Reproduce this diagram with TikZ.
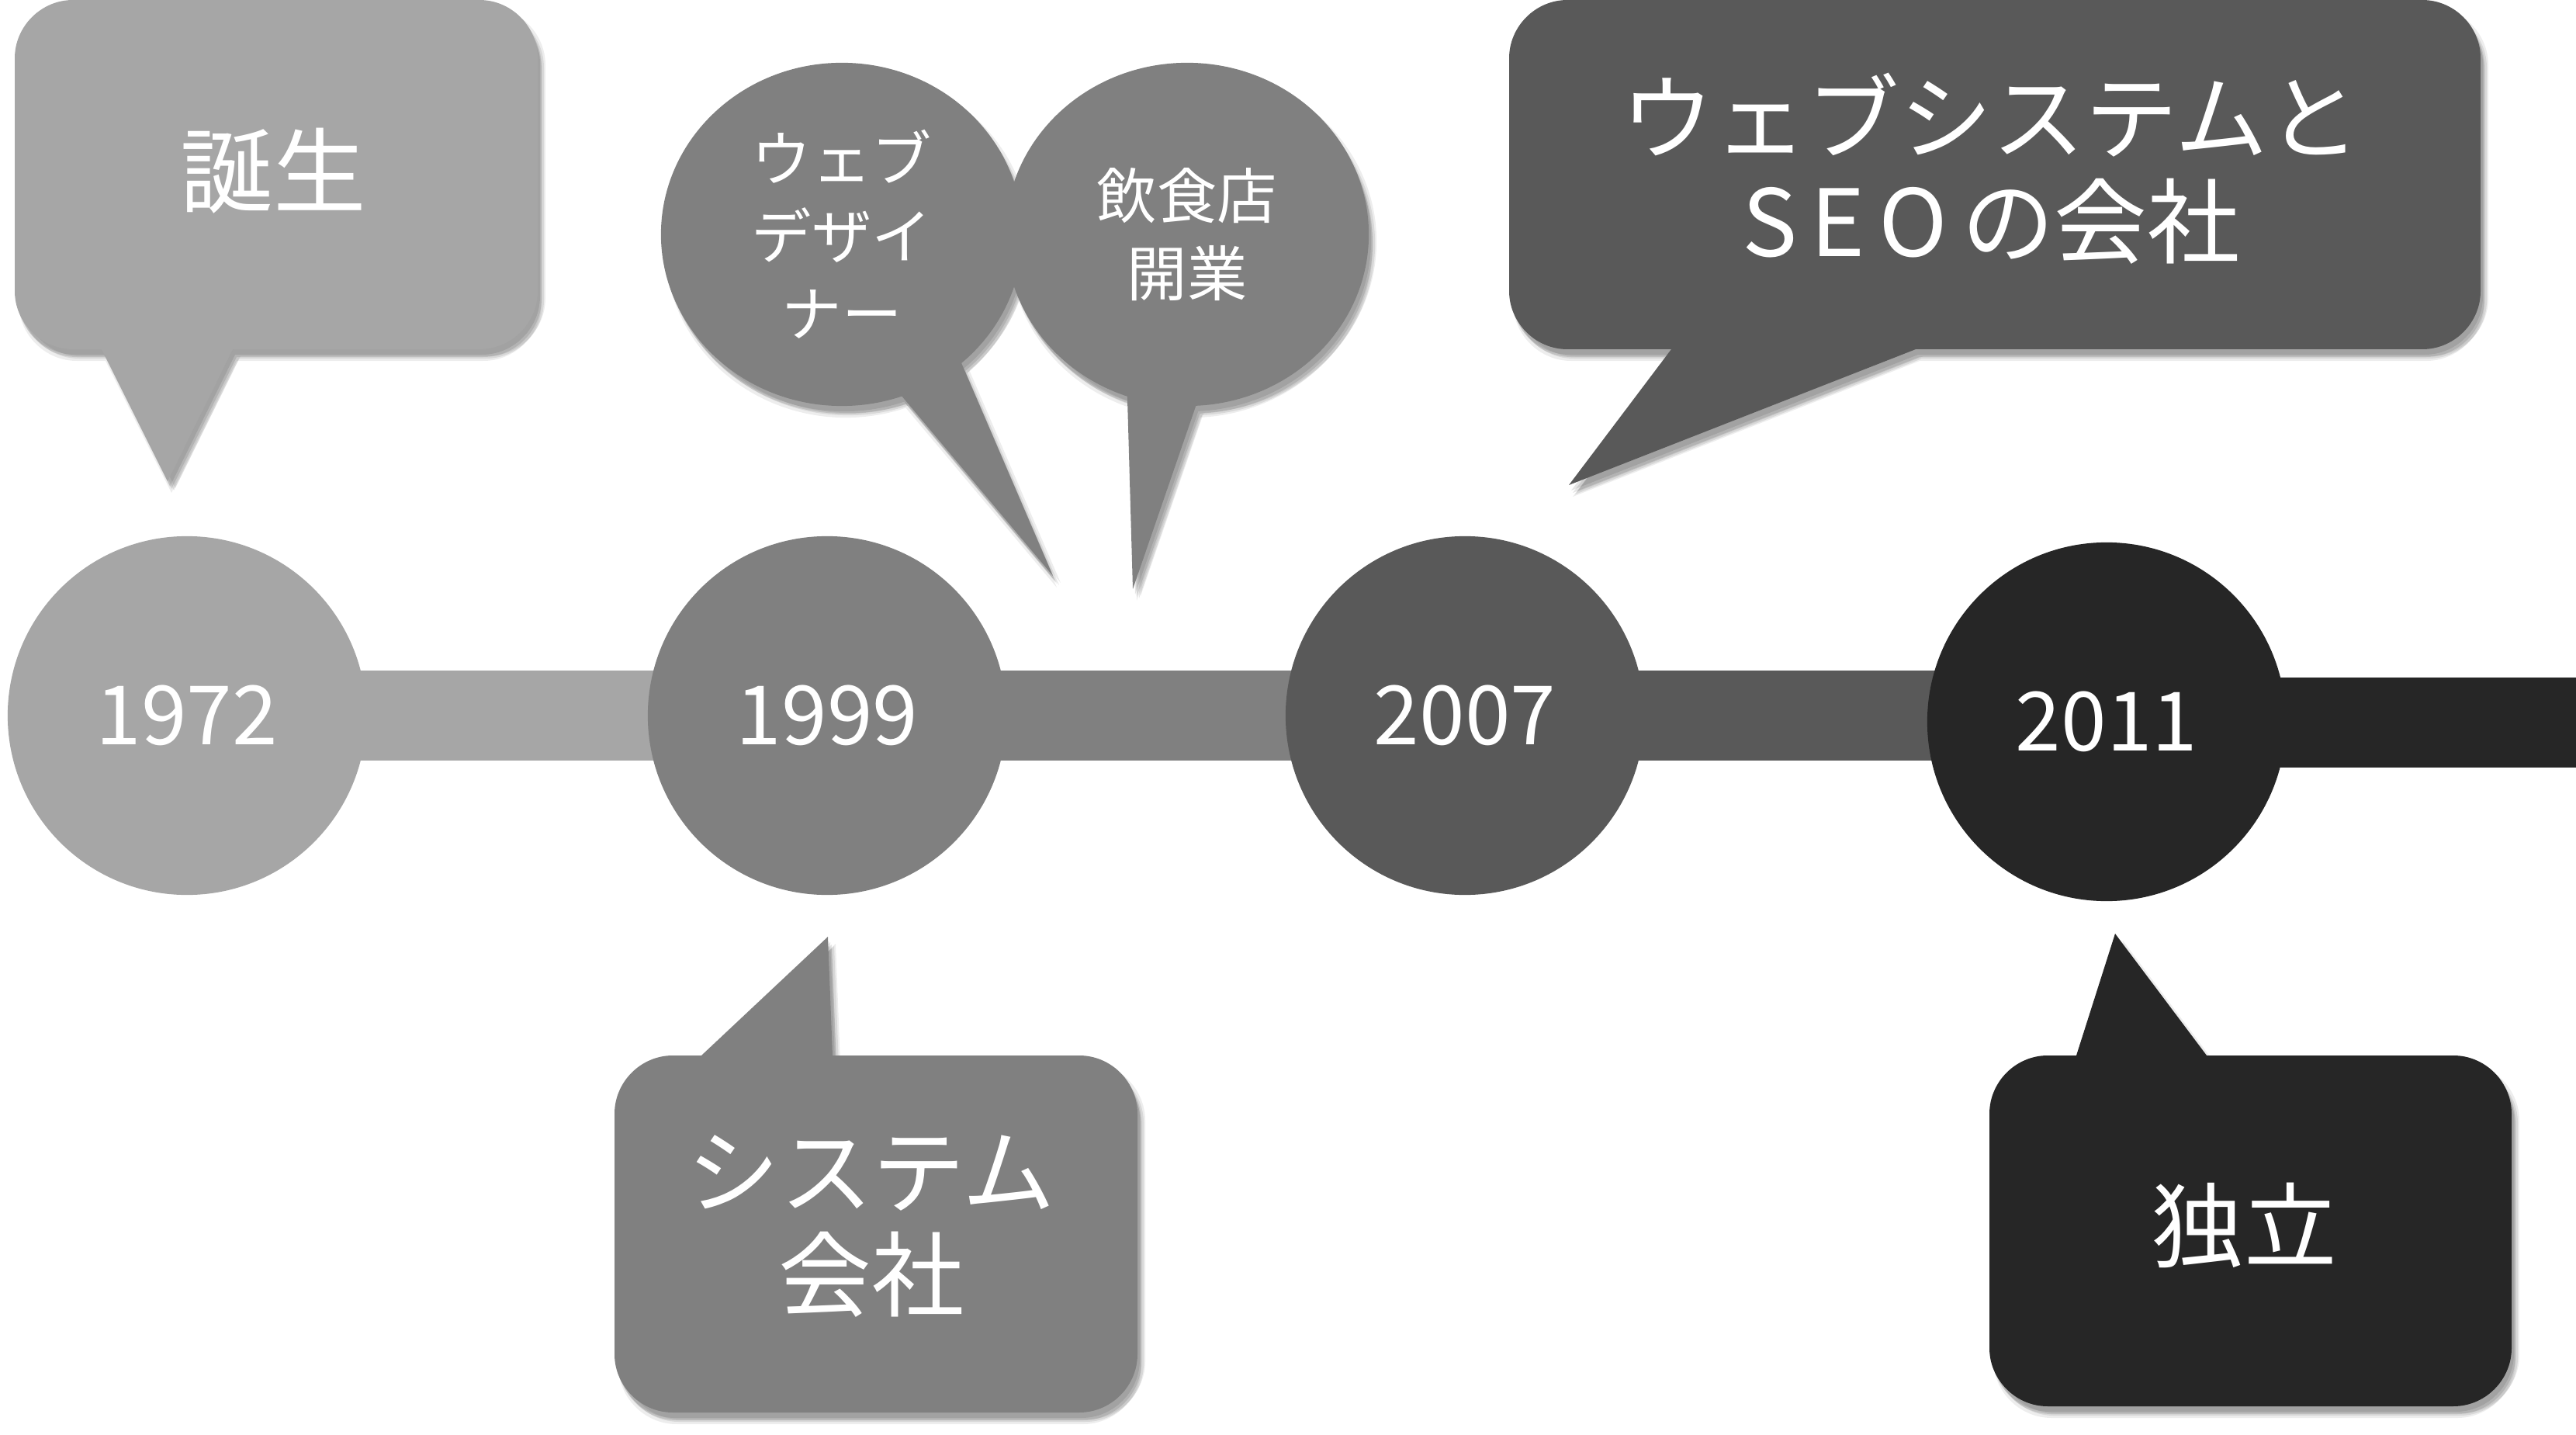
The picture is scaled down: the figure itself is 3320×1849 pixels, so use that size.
\documentclass[tikz,border=0pt]{standalone}
\usepackage{fontspec}
\setmainfont{Noto Sans CJK JP}
\usetikzlibrary{shapes.callouts,shadows}
\definecolor{gA}{HTML}{A6A6A6}
\definecolor{gB}{HTML}{808080}
\definecolor{gC}{HTML}{595959}
\definecolor{gD}{HTML}{262626}
\tikzset{
  softshadow/.style={
    drop shadow={shadow xshift=0.05cm, shadow yshift=-0.10cm, opacity=0.10, fill=black},
    drop shadow={shadow xshift=0.03cm, shadow yshift=-0.07cm, opacity=0.10, fill=black},
    drop shadow={shadow xshift=0.08cm, shadow yshift=-0.12cm, opacity=0.09, fill=black},
    drop shadow={shadow xshift=0.05cm, shadow yshift=-0.15cm, opacity=0.07, fill=black},
    drop shadow={shadow xshift=0.10cm, shadow yshift=-0.09cm, opacity=0.07, fill=black}},
  yearnode/.style={circle, minimum size=4.62cm, inner sep=0pt, text=white,
    font=\fontsize{30}{36}\selectfont},
  bar/.style={line width=1.16cm},
  bigtxt/.style={text=white, align=center, inner sep=0pt,
    font=\fontsize{34}{38}\selectfont},
  bubble/.style={ellipse callout, inner sep=0pt, minimum width=4.66cm,
    minimum height=4.42cm, callout pointer arc=22, fill=gB, softshadow,
    text=white, align=center, font=\fontsize{22}{28.5}\selectfont}
}
% rounded box with tail on the bottom edge: L T R B x1 x2 tipx tipy
\newcommand\calldown[8]{({#1+75},#2) -- ({#3-75},#2)
 .. controls ({#3-34},#2) and (#3,{#2+34}) .. (#3,{#2+75})
 -- (#3,{#4-75})
 .. controls (#3,{#4-34}) and ({#3-34},#4) .. ({#3-75},#4)
 -- (#6,#4) -- (#7,#8) -- (#5,#4)
 -- ({#1+75},#4)
 .. controls ({#1+34},#4) and (#1,{#4-34}) .. (#1,{#4-75})
 -- (#1,{#2+75})
 .. controls (#1,{#2+34}) and ({#1+34},#2) .. ({#1+75},#2) -- cycle}
% rounded box with tail on the top edge
\newcommand\callup[8]{({#1+75},#2) -- (#5,#2) -- (#7,#8) -- (#6,#2)
 -- ({#3-75},#2)
 .. controls ({#3-34},#2) and (#3,{#2+34}) .. (#3,{#2+75})
 -- (#3,{#4-75})
 .. controls (#3,{#4-34}) and ({#3-34},#4) .. ({#3-75},#4)
 -- ({#1+75},#4)
 .. controls ({#1+34},#4) and (#1,{#4-34}) .. (#1,{#4-75})
 -- (#1,{#2+75})
 .. controls (#1,{#2+34}) and ({#1+34},#2) .. ({#1+75},#2) -- cycle}
\begin{document}
\begin{tikzpicture}[x=0.01cm,y=-0.01cm]
\useasboundingbox (0,0) rectangle (3320,1849);
% timeline
\coordinate (p1972) at (241,922);
\coordinate (p1999) at (1066,922);
\coordinate (p2007) at (1888,922);
\coordinate (p2011) at (2715,930);
\coordinate (pend) at (3320,931);
\draw[bar, gA] (p1972) -- (p1999);
\draw[bar, gB] (p1999) -- (p2007);
\draw[bar, gC] (p2007) -- (p2007 -| p2011);
\draw[bar, gD] (p2011 |- pend) -- (pend);
\node[yearnode, fill=gA] (c1972) at (p1972) {1972};
\node[yearnode, fill=gB] (c1999) at (p1999) {1999};
\node[yearnode, fill=gC] (c2007) at (p2007) {2007};
\node[yearnode, fill=gD] (c2011) at (p2011) {2011};
% callouts
\fill[gA, softshadow] \calldown{19}{0}{693}{450}{131}{300}{216}{620};
\node[bigtxt] (birth) at (352,220) {誕生};
\node[bubble, callout absolute pointer={(1357,742)}] (web) at (1085,302) {ウェブ\\デザイ\\ナー};
\node[bubble, minimum width=4.68cm, callout absolute pointer={(1460,759)}] (shop) at (1530,302) {飲食店\\開業};
\fill[gC, softshadow] \calldown{1945}{0}{3197}{450}{2154}{2469}{2022}{625};
\node[bigtxt] (seo) at (2566,217) {ウェブシステムと\\S\kern5pt E\kern5pt O\kern5pt の会社};
\fill[gB, softshadow] \callup{792}{1360}{1466}{1820}{904}{1073}{1067}{1207};
\node[bigtxt] (sys) at (1123,1580) {システム\\会社};
\fill[gD, softshadow] \callup{2564}{1360}{3237}{1812}{2676}{2844}{2726}{1203};
\node[bigtxt] (indep) at (2892,1579) {独立};
\end{tikzpicture}
\end{document}
